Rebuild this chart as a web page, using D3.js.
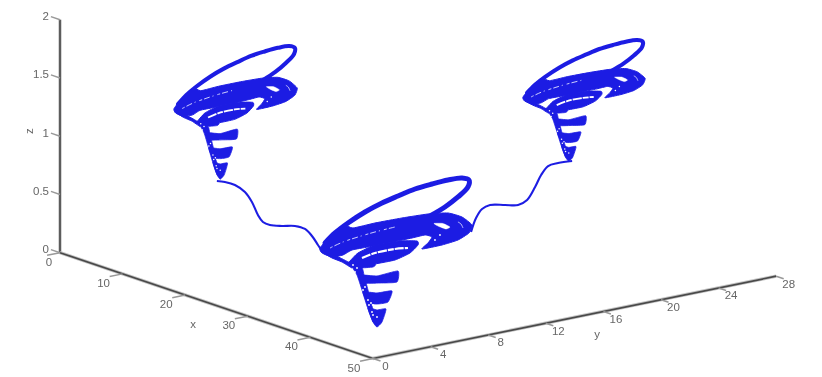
<!DOCTYPE html>
<html>
<head>
<meta charset="utf-8">
<script src="https://cdn.jsdelivr.net/npm/d3@7"></script>
<style>
  html, body { margin: 0; background: #fff; }
  svg { display: block; }
  text { font-family: "Liberation Sans", sans-serif; font-size: 11.5px; fill: #666; }
</style>
</head>
<body>
<div id="chart"></div>
<script>
// axis ticks
const xTicks = [0, 10, 20, 30, 40, 50];
const yTicks = [0, 4, 8, 12, 16, 20, 24, 28];
const zTicks = [0, 0.5, 1, 1.5, 2];

// attractor outline, u runs along the ground and v goes up, both in shape units
const ringU = [5, 15, 28, 45, 62, 78, 95, 112, 128, 142, 149, 148, 138, 125, 110];
const ringV = [85, 95, 105, 116, 125, 132, 139, 144, 148, 150, 148, 141, 131, 121, 112];

const wingU = [0, 12, 24, 33, 55, 82, 108, 128, 142, 152, 149, 138, 122, 102, 108, 112, 105, 92, 68, 48, 32, 23, 12, 2];
const wingV = [80, 94, 103, 100, 105, 110, 114, 115, 111, 103, 95, 88, 83, 79, 85, 91, 93, 90, 85, 81, 78, 73, 71, 75];

const collarU = [30, 38, 55, 78, 97, 98, 90, 75, 55, 38, 28];
const collarV = [67, 75, 83, 87, 87, 83, 75, 68, 64, 61, 64];

const skirtU = [2, 12, 22, 32, 28, 14];
const skirtV = [76, 70, 66, 60, 66, 73];

// funnel layers from the top down
const layersU = [
  [28, 55, 53, 40, 32],
  [40, 57, 78, 77, 60, 43],
  [43, 57, 72, 68, 58, 48],
  [48, 57, 66, 62, 57, 53],
  [30, 42, 44, 48, 52, 57, 53, 47, 42, 37]
];
const layersV = [
  [66, 64, 61, 60, 61],
  [53, 52, 57, 46, 45, 45],
  [36, 35, 37, 26, 24, 25],
  [20, 18, 19, 6, 1, 6],
  [65, 60, 53, 38, 22, 6, 6, 22, 38, 53]
];

// gaps left in the point cloud
const dashU = [10, 23, 38, 55, 75];
const dashV = [80, 86, 91, 96, 101];
const swirlU = [114, 123, 130, 126, 119];
const swirlV = [104.5, 104.5, 101, 99, 101.5];
const arcU = [138, 141, 143];
const arcV = [106, 104, 100];
const collarGapU = [42, 55, 75, 88];
const collarGapV = [70, 75, 79, 80];
const speckU = [115, 120, 33, 37, 35, 45, 43, 48, 51, 49, 53, 52, 53, 57];
const speckV = [88, 93, 63, 60, 56, 41, 38, 28, 25, 23, 23, 16, 13, 11];

// where each attractor sits in x, y, z
const shapeU = [0, 153];
const shapeV = [0, 150];
const attractorX = [[8, 15.46], [40, 49.2], [30, 37.4]];
const attractorY = [[4.44, 9.81], [0.667, 7.29], [19.11, 24.43]];
const attractorZ = [[0.657, 1.807], [0.0635, 1.351], [0.841, 1.888]];
const attractorSize = [0.82, 1, 0.82];

// the two connecting trajectories
const linkU = [
  [0, 8, 18, 28, 35, 41, 46, 53, 65, 78, 88, 95, 101, 105],
  [1, 6, 12, 20, 35, 48, 57, 65, 71, 78, 88, 102]
];
const linkV = [
  [70, 69, 66, 59, 49, 36, 29, 26, 25, 25, 22, 15, 6, 0],
  [0, 14, 23, 27, 27, 27, 32, 45, 57, 66, 69, 71]
];
const linkDomainU = [[0, 105], [0, 102]];
const linkDomainV = [[0, 70], [0, 71]];
const linkX = [[16, 22.32], [35, 41.14]];
const linkY = [[3.94, 8.49], [13.26, 17.68]];
const linkZ = [[0.206, 0.807], [0.479, 1.088]];

const width = 822, height = 377;
const BLUE = "#1f1fe3";

const svg = d3.select("#chart").append("svg").attr("width", width).attr("height", height);

const defs = svg.append("defs");
defs.append("filter").attr("id", "soft")
  .append("feGaussianBlur").attr("stdDeviation", 0.4);
defs.append("filter").attr("id", "softText")
  .append("feGaussianBlur").attr("stdDeviation", 0.25);

// 3D axes, every data axis has its own screen x and screen y scale
const xToPx = d3.scaleLinear().domain([0, 50]).range([0, 313]);
const xToPy = d3.scaleLinear().domain([0, 50]).range([0, 105.8]);
const yToPx = d3.scaleLinear().domain([0, 28]).range([0, 403.2]);
const yToPy = d3.scaleLinear().domain([0, 28]).range([0, -82.3]);
const zToPy = d3.scaleLinear().domain([0, 2]).range([0, -233]);
const originX = 60, originY = 252.7;

function project(x, y, z) {
  return [originX + xToPx(x) + yToPx(y), originY + xToPy(x) + yToPy(y) + zToPy(z)];
}

// u,v shape units to data space and on to the screen
function placer(domU, domV, rangeX, rangeY, rangeZ) {
  const ux = d3.scaleLinear().domain(domU).range(rangeX);
  const uy = d3.scaleLinear().domain(domU).range(rangeY);
  const vz = d3.scaleLinear().domain(domV).range(rangeZ);
  return (u, v) => project(ux(u), uy(u), vz(v));
}

const zipLine = (us, vs, place) => us.map((u, i) => place(u, vs[i]));
const openLine = d3.line().curve(d3.curveCatmullRom);
const closedLine = d3.line().curve(d3.curveCardinalClosed.tension(0.5));

// axes
const axes = svg.append("g").attr("filter", "url(#soft)");

function axisLine(a, b) {
  axes.append("line").attr("x1", a[0]).attr("y1", a[1]).attr("x2", b[0]).attr("y2", b[1])
    .attr("stroke", "#c4c4c4").attr("stroke-width", 3.4);
  axes.append("line").attr("x1", a[0]).attr("y1", a[1]).attr("x2", b[0]).attr("y2", b[1])
    .attr("stroke", "#4a4a4a").attr("stroke-width", 1.7);
}
function tickLine(a, b) {
  axes.append("line").attr("x1", a[0]).attr("y1", a[1]).attr("x2", b[0]).attr("y2", b[1])
    .attr("stroke", "#999").attr("stroke-width", 1.5);
}

axisLine(project(0, 0, 0), project(0, 0, 2));
axisLine(project(0, 0, 0), project(50, 0, 0));
axisLine(project(50, 0, 0), project(50, 28, 0));

const labels = svg.append("g").attr("filter", "url(#softText)");

function label(px, py, str, anchor) {
  return labels.append("text").attr("x", px).attr("y", py)
    .attr("text-anchor", anchor).attr("dominant-baseline", "central").text(str);
}

for (const t of zTicks) {
  const p = project(0, 0, t);
  tickLine(p, project(-1.45, 0, t));
  label(p[0] - 11, p[1] - 3.5, String(t), "end");
}
for (const t of xTicks) {
  const p = project(t, 0, 0);
  tickLine(p, project(t, -0.9, 0));
  label(p[0] - (t === 0 ? 11 : 19), p[1] + 9, String(t), "middle");
}
for (const t of yTicks) {
  const p = project(50, t, 0);
  tickLine(p, project(51.2, t, 0));
  label(p[0] + 12.5, p[1] + 7.5, String(t), "middle");
}

label(193, 324, "x", "middle");
label(597, 334, "y", "middle");
labels.append("text").attr("transform", "translate(29,131) rotate(-90)")
  .attr("text-anchor", "middle").attr("dominant-baseline", "central").text("z");

// links and attractors
const marks = svg.append("g").attr("filter", "url(#soft)");

linkU.forEach((us, i) => {
  const place = placer(linkDomainU[i], linkDomainV[i], linkX[i], linkY[i], linkZ[i]);
  marks.append("path").attr("d", openLine(zipLine(us, linkV[i], place)))
    .attr("fill", "none").attr("stroke", BLUE).attr("stroke-width", 2.1);
});

attractorX.forEach((rangeX, i) => {
  const place = placer(shapeU, shapeV, rangeX, attractorY[i], attractorZ[i]);
  const size = attractorSize[i];

  marks.append("path").attr("d", openLine(zipLine(ringU, ringV, place)))
    .attr("fill", "none").attr("stroke", BLUE).attr("stroke-width", 5 * size)
    .attr("stroke-linecap", "round");

  for (const [us, vs] of [[wingU, wingV], [collarU, collarV], [skirtU, skirtV]]) {
    marks.append("path").attr("d", closedLine(zipLine(us, vs, place)))
      .attr("fill", BLUE).attr("stroke", BLUE).attr("stroke-width", 1);
  }

  layersU.forEach((us, j) => {
    marks.append("path").attr("d", closedLine(zipLine(us, layersV[j], place)))
      .attr("fill", BLUE).attr("stroke", BLUE).attr("stroke-width", 0.8);
  });

  marks.append("path").attr("d", openLine(zipLine(dashU, dashV, place)))
    .attr("fill", "none").attr("stroke", "#dfe0ff").attr("stroke-width", 0.9)
    .attr("stroke-dasharray", "3 2 6 3 1 4");
  marks.append("path").attr("d", closedLine(zipLine(swirlU, swirlV, place)))
    .attr("fill", "#fff").attr("stroke", "#fff").attr("stroke-width", 0.4);
  marks.append("path").attr("d", openLine(zipLine(arcU, arcV, place)))
    .attr("fill", "none").attr("stroke", "#dfe0ff").attr("stroke-width", 0.8);
  marks.append("path").attr("d", openLine(zipLine(collarGapU, collarGapV, place)))
    .attr("fill", "none").attr("stroke", "#fff").attr("stroke-width", 2.2 * size)
    .attr("stroke-dasharray", "9 1 6 1");

  speckU.forEach((u, j) => {
    const p = place(u, speckV[j]);
    marks.append("circle").attr("cx", p[0]).attr("cy", p[1]).attr("r", 0.9 * size).attr("fill", "#fff");
  });
});
</script>
</body>
</html>
